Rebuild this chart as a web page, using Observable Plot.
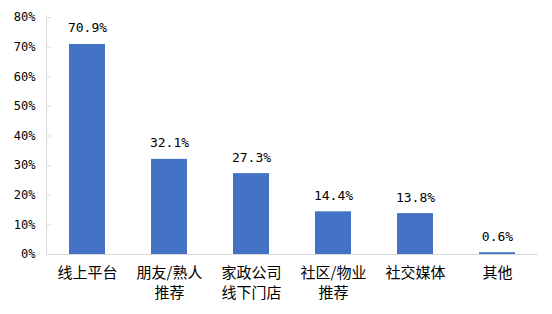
<!DOCTYPE html>
<html>
<head>
<meta charset="utf-8">
<script src="https://cdn.jsdelivr.net/npm/d3@7"></script>
<script src="https://cdn.jsdelivr.net/npm/@observablehq/plot@0.6"></script>
<style>
  html, body { margin: 0; padding: 0; background: #fff; }
</style>
</head>
<body>
<div id="chart"></div>
<script>
const categories = ["线上平台", "朋友/熟人\n推荐", "家政公司\n线下门店", "社区/物业\n推荐", "社交媒体", "其他"];
const values = [70.9, 32.1, 27.3, 14.4, 13.8, 0.6];
const yTicks = [0, 10, 20, 30, 40, 50, 60, 70, 80];

const data = categories.map((c, i) => ({category: c, value: values[i]}));

const gray = "#d9d9d9";
const mono = "'DejaVu Sans Mono', 'Liberation Mono', monospace";
const cjk = "'Noto Sans CJK SC', 'Noto Sans', sans-serif";

const chart = Plot.plot({
  width: 552,
  height: 314,
  marginLeft: 46,
  marginRight: 14,
  marginTop: 17,
  marginBottom: 60,
  style: {background: "#fff", color: "#000"},
  x: {domain: categories, paddingInner: 0.56, paddingOuter: 0.28, label: null},
  y: {domain: [0, 80], label: null},
  marks: [
    Plot.barY(data, {x: "category", y: "value", fill: "#4472C4"}),
    Plot.frame({anchor: "left", stroke: gray}),
    Plot.ruleY([0], {stroke: gray}),
    Plot.axisY(yTicks, {tickSize: 5, dx: 5, tickFormat: () => "", stroke: gray, label: null}),
    Plot.axisY(yTicks, {tickSize: 0, tickPadding: 11, tickFormat: d => d + "%", fontSize: 12, fontFamily: mono, fill: "#000", label: null}),
    Plot.axisX({tickSize: 0, tickPadding: 9, fontSize: 15, lineHeight: 1.35, fontFamily: cjk, fill: "#000", label: null}),
    Plot.text(data, {x: "category", y: "value", text: d => d.value.toFixed(1) + "%", lineAnchor: "bottom", dy: -12, fontSize: 13, fontFamily: mono, fill: "#000"})
  ]
});
document.getElementById("chart").appendChild(chart);
</script>
</body>
</html>
